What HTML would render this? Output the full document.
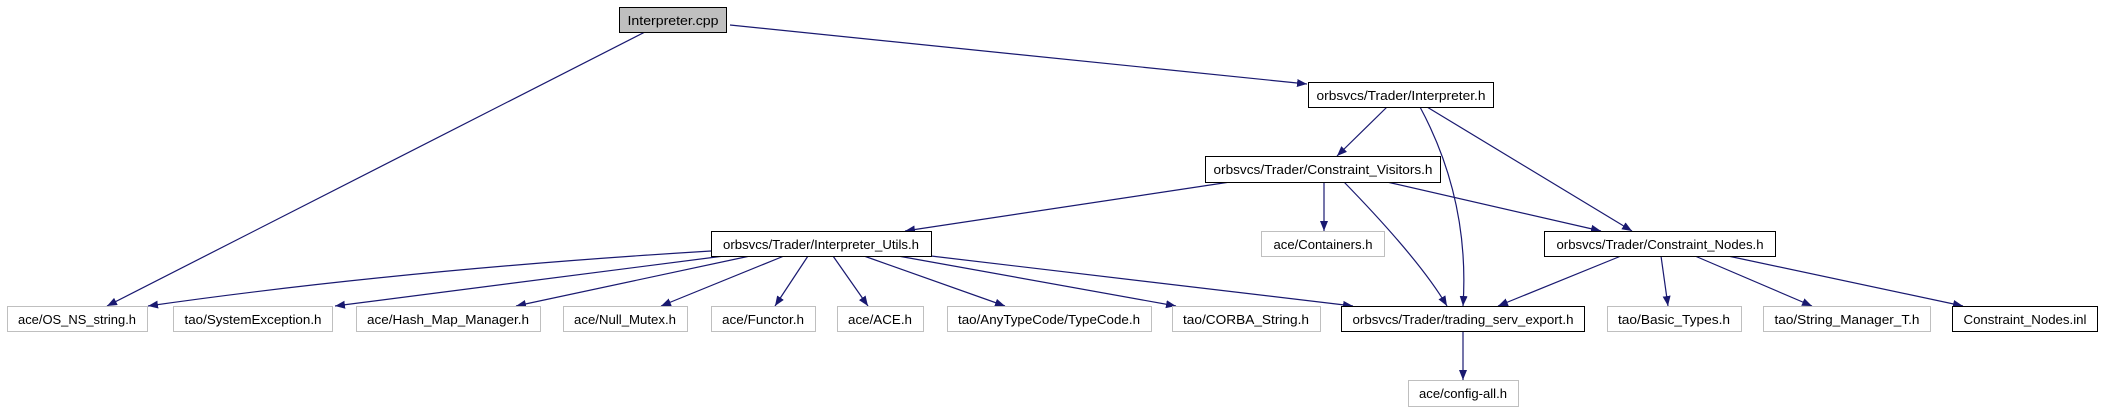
<!DOCTYPE html>
<html><head><meta charset="utf-8"><style>
html,body{margin:0;padding:0;background:#fff;width:2101px;height:411px;overflow:hidden}
svg text{font-family:"Liberation Sans",sans-serif;font-size:13px;fill:#000}
</style></head><body>
<svg width="2101" height="411" viewBox="0 0 2101 411" xmlns="http://www.w3.org/2000/svg">
<defs><marker id="a" viewBox="0 0 10 10" refX="10" refY="5" markerWidth="10" markerHeight="10" markerUnits="userSpaceOnUse" orient="auto"><path d="M0,1 L10,5 L0,9 z" fill="#191970"/></marker></defs>
<g stroke="#191970" stroke-width="1.2" fill="none" marker-end="url(#a)">
<path d="M645,32 L107,306"/>
<path d="M730,25 L1307,84"/>
<path d="M1387,107 L1337,156"/>
<path d="M1420,107 Q1470,200 1463,306"/>
<path d="M1427,107 L1632,231"/>
<path d="M1230,182 L905,231"/>
<path d="M1324,182 L1324,231"/>
<path d="M1344,182 Q1420,260 1447,306"/>
<path d="M1387,182 L1601,231"/>
<path d="M711,251 Q400,270 148,306"/>
<path d="M724,256 L335,306"/>
<path d="M750,256 L516,306"/>
<path d="M784,256 L661,306"/>
<path d="M808,256 L775,306"/>
<path d="M833,256 L868,306"/>
<path d="M864,256 L1005,306"/>
<path d="M898,256 L1176,306"/>
<path d="M931,256 L1353,306"/>
<path d="M1621,256 L1498,306"/>
<path d="M1661,256 L1668,306"/>
<path d="M1695,256 L1812,306"/>
<path d="M1728,256 L1963,306"/>
<path d="M1463,331 L1463,380"/>
</g>
<g stroke-width="1">
<rect x="619.5" y="7.5" width="107" height="25" fill="#bfbfbf" stroke="#000"/>
<rect x="1308.5" y="82.5" width="185" height="25" fill="#fff" stroke="#000"/>
<rect x="1205.5" y="156.5" width="235" height="26" fill="#fff" stroke="#000"/>
<rect x="711.5" y="231.5" width="220" height="25" fill="#fff" stroke="#000"/>
<rect x="1261.5" y="231.5" width="123" height="25" fill="#fff" stroke="#bfbfbf"/>
<rect x="1544.5" y="231.5" width="231" height="25" fill="#fff" stroke="#000"/>
<rect x="7.5" y="306.5" width="140" height="25" fill="#fff" stroke="#bfbfbf"/>
<rect x="173.5" y="306.5" width="159" height="25" fill="#fff" stroke="#bfbfbf"/>
<rect x="356.5" y="306.5" width="184" height="25" fill="#fff" stroke="#bfbfbf"/>
<rect x="563.5" y="306.5" width="124" height="25" fill="#fff" stroke="#bfbfbf"/>
<rect x="711.5" y="306.5" width="104" height="25" fill="#fff" stroke="#bfbfbf"/>
<rect x="837.5" y="306.5" width="86" height="25" fill="#fff" stroke="#bfbfbf"/>
<rect x="947.5" y="306.5" width="204" height="25" fill="#fff" stroke="#bfbfbf"/>
<rect x="1172.5" y="306.5" width="148" height="25" fill="#fff" stroke="#bfbfbf"/>
<rect x="1341.5" y="306.5" width="243" height="25" fill="#fff" stroke="#000"/>
<rect x="1607.5" y="306.5" width="134" height="25" fill="#fff" stroke="#bfbfbf"/>
<rect x="1763.5" y="306.5" width="167" height="25" fill="#fff" stroke="#bfbfbf"/>
<rect x="1952.5" y="306.5" width="145" height="25" fill="#fff" stroke="#000"/>
<rect x="1408.5" y="380.5" width="110" height="26" fill="#fff" stroke="#bfbfbf"/>
</g>
<g text-anchor="middle" lengthAdjust="spacingAndGlyphs">
<text x="673" y="25" textLength="91" lengthAdjust="spacingAndGlyphs">Interpreter.cpp</text>
<text x="1401" y="100" textLength="169" lengthAdjust="spacingAndGlyphs">orbsvcs/Trader/Interpreter.h</text>
<text x="1323" y="174" textLength="219" lengthAdjust="spacingAndGlyphs">orbsvcs/Trader/Constraint_Visitors.h</text>
<text x="821" y="249" textLength="196" lengthAdjust="spacingAndGlyphs">orbsvcs/Trader/Interpreter_Utils.h</text>
<text x="1323" y="249" textLength="99" lengthAdjust="spacingAndGlyphs">ace/Containers.h</text>
<text x="1660" y="249" textLength="207" lengthAdjust="spacingAndGlyphs">orbsvcs/Trader/Constraint_Nodes.h</text>
<text x="77" y="324" textLength="118" lengthAdjust="spacingAndGlyphs">ace/OS_NS_string.h</text>
<text x="253" y="324" textLength="137" lengthAdjust="spacingAndGlyphs">tao/SystemException.h</text>
<text x="448" y="324" textLength="162" lengthAdjust="spacingAndGlyphs">ace/Hash_Map_Manager.h</text>
<text x="625" y="324" textLength="102" lengthAdjust="spacingAndGlyphs">ace/Null_Mutex.h</text>
<text x="763" y="324" textLength="82" lengthAdjust="spacingAndGlyphs">ace/Functor.h</text>
<text x="880" y="324" textLength="64" lengthAdjust="spacingAndGlyphs">ace/ACE.h</text>
<text x="1049" y="324" textLength="182" lengthAdjust="spacingAndGlyphs">tao/AnyTypeCode/TypeCode.h</text>
<text x="1246" y="324" textLength="126" lengthAdjust="spacingAndGlyphs">tao/CORBA_String.h</text>
<text x="1463" y="324" textLength="221" lengthAdjust="spacingAndGlyphs">orbsvcs/Trader/trading_serv_export.h</text>
<text x="1674" y="324" textLength="112" lengthAdjust="spacingAndGlyphs">tao/Basic_Types.h</text>
<text x="1847" y="324" textLength="145" lengthAdjust="spacingAndGlyphs">tao/String_Manager_T.h</text>
<text x="2025" y="324" textLength="123" lengthAdjust="spacingAndGlyphs">Constraint_Nodes.inl</text>
<text x="1463" y="398" textLength="88" lengthAdjust="spacingAndGlyphs">ace/config-all.h</text>
</g>
</svg>
</body></html>
